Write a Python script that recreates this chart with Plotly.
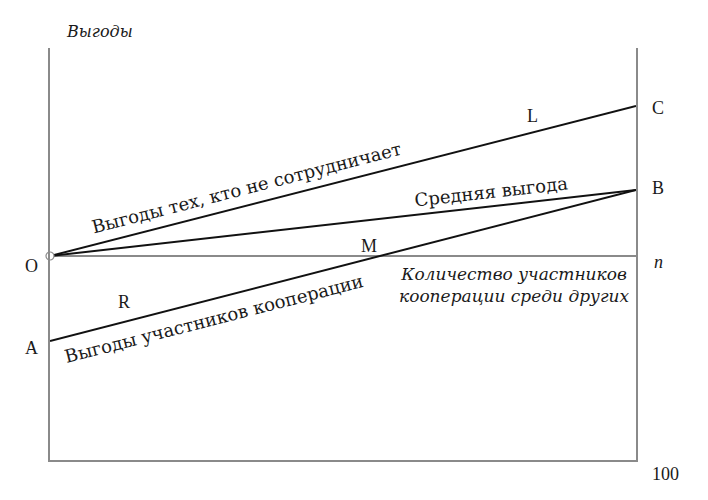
import plotly.graph_objects as go

# x: number of cooperators among the others (0..100), y: benefit (O = 0)
x_ends = [0, 100]
defector_benefit = [0, 150]      # O -> C
average_benefit = [0, 66]        # O -> B
cooperator_benefit = [-85, 66]   # A -> B

FONT = 'Liberation Serif, DejaVu Serif, serif'
CYR_FONT = 'DejaVu Serif, serif'   # serif face that has Cyrillic
GREY = '#8a8a8a'

fig = go.Figure()
for ys in (defector_benefit, average_benefit, cooperator_benefit):
    fig.add_trace(go.Scatter(x=x_ends, y=ys, mode='lines',
                             line=dict(color='#111111', width=2), showlegend=False))

# open circle at the origin
fig.add_trace(go.Scatter(x=[0], y=[0], mode='markers', cliponaxis=False,
                         marker=dict(size=8, color='white', line=dict(color=GREY, width=1.2)),
                         showlegend=False))

# labels inside the plot (data coords): text, x, y
inner_labels = [('R', 12.6, -46), ('M', 54.4, 10), ('L', 82.4, 140)]
for txt, x, y in inner_labels:
    fig.add_annotation(x=x, y=y, text=txt, showarrow=False, font=dict(size=18))

# labels outside the plot area (paper coords): text, x, y
outer_labels = [('O', -0.031, 0.471), ('A', -0.032, 0.272), ('C', 1.038, 0.854),
                ('B', 1.038, 0.660), ('<i>n</i>', 1.038, 0.480), ('100', 1.051, -0.034)]
for txt, x, y in outer_labels:
    fig.add_annotation(x=x, y=y, xref='paper', yref='paper', text=txt,
                       xanchor='center', yanchor='middle',
                       showarrow=False, font=dict(size=18))
fig.add_annotation(x=0.085, y=1.039, xref='paper', yref='paper', text='<i>Выгоды</i>',
                   xanchor='center', yanchor='middle', showarrow=False,
                   font=dict(size=16, family=CYR_FONT))

# line captions, rotated along the lines
cap_font = dict(size=18, family=CYR_FONT)
fig.add_annotation(x=33.6, y=69, text='Выгоды тех, кто не сотрудничает', textangle=-14.4,
                   showarrow=False, font=cap_font)
fig.add_annotation(x=75.3, y=65, text='Средняя выгода', textangle=-6.4,
                   showarrow=False, font=cap_font)
fig.add_annotation(x=28, y=-62, text='Выгоды участников кооперации', textangle=-14.4,
                   showarrow=False, font=cap_font)
fig.add_annotation(x=79.2, y=-29, text='<i>Количество участников<br>кооперации среди других</i>',
                   showarrow=False, align='center', font=dict(size=17, family=CYR_FONT))

fig.update_layout(
    width=708, height=500,
    margin=dict(l=42, r=80, t=40, b=48),
    plot_bgcolor='white', paper_bgcolor='white',
    font=dict(family=FONT, color='#1a1a1a'),
)
fig.update_xaxes(range=[0, 100], showgrid=False, zeroline=False, showticklabels=False,
                 ticks='', showline=True, linecolor=GREY, linewidth=1.5)
fig.update_yaxes(range=[-204, 208], showgrid=False, showticklabels=False, ticks='',
                 zeroline=True, zerolinecolor=GREY, zerolinewidth=1.5,
                 showline=True, mirror=True, linecolor=GREY, linewidth=1.5)

fig.write_html("out.html")
